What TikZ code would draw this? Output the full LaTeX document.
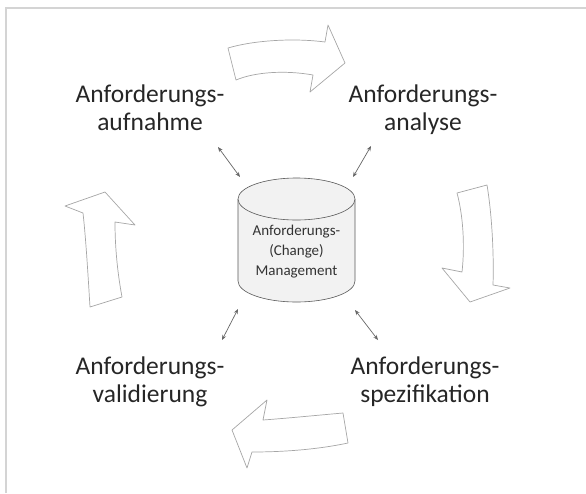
\documentclass[tikz,border=0pt]{standalone}
\usepackage{fontspec}
\setmainfont{Carlito}
\usetikzlibrary{arrows.meta}
\definecolor{framegray}{HTML}{D4D4D4}
\definecolor{arrowgray}{HTML}{A6A6A6}
\definecolor{cylgray}{HTML}{F2F2F2}
\definecolor{textgray}{HTML}{262626}
\begin{document}
\begin{tikzpicture}[x=1pt,y=-1pt,
    phase/.style={anchor=north,inner sep=0pt,align=center,text=textgray,
        font=\fontsize{25.5}{27.5}\selectfont},
    dbtext/.style={anchor=north,inner sep=0pt,align=center,text=black!80,
        font=\fontsize{15}{20}\selectfont},
    bigarrow/.style={draw=arrowgray,fill=white,line width=0.7pt,line join=round},
    link/.style={{Stealth[length=5pt,width=4pt]}-{Stealth[length=5pt,width=4pt]},
        draw=black!60,line width=0.7pt}]
    \useasboundingbox (0,0) rectangle (586,493);

    % Frame
    \draw[framegray,line width=2pt] (6,493) -- (6,8) -- (586,8);

    % Repository
    \fill[cylgray] (238,199) -- (238,281) arc[start angle=180,end angle=0,x radius=58.5,y radius=21] -- (355,199) -- cycle;
    \draw[black!65,line width=0.6pt] (238,199) -- (238,281) arc[start angle=180,end angle=0,x radius=58.5,y radius=21] -- (355,199);
    \draw[black!65,fill=cylgray,line width=0.6pt] (296.5,199) ellipse[x radius=58.5,y radius=21];
    \node[dbtext] (db) at (296.5,225) {Anforderungs-\\(Change)\\Management};

    % Phases
    \node[phase] (aufnahme) at (150,85) {Anforderungs-\\aufnahme};
    \node[phase] (analyse) at (423,85) {Anforderungs-\\analyse};
    \node[phase] (spez) at (425,357) {Anforderungs-\\spezifikation};
    \node[phase] (valid) at (150,357) {Anforderungs-\\validierung};

    % Links to the repository
    \coordinate (aufnahme-out) at (218,147);
    \coordinate (db-tl) at (240,177);
    \coordinate (analyse-out) at (371,146);
    \coordinate (db-tr) at (353,177);
    \coordinate (spez-out) at (378,340);
    \coordinate (db-br) at (355,310);
    \coordinate (valid-out) at (222,340);
    \coordinate (db-bl) at (238,309);
    \draw[link] (aufnahme-out) -- (db-tl);
    \draw[link] (analyse-out) -- (db-tr);
    \draw[link] (spez-out) -- (db-br);
    \draw[link] (valid-out) -- (db-bl);

    % Cycle arrows
    \draw[bigarrow] (228,48) .. controls (255,40) and (295,38) .. (325,42) -- (328,25) -- (345,63)
        -- (310,92) -- (313,75) .. controls (285,70) and (255,72) .. (236,80) -- cycle;
    \draw[bigarrow] (457,193) -- (487,185) .. controls (492,215) and (494,255) .. (493,285)
        -- (510,288) -- (470,302) -- (442,268) -- (462,272) .. controls (465,245) and (463,215) .. (457,193) -- cycle;
    \draw[bigarrow] (343,413) -- (348,443) .. controls (315,450) and (280,452) .. (252,452)
        -- (247,468) -- (232,430) -- (267,400) -- (263,420) .. controls (290,418) and (320,415) .. (343,413) -- cycle;
    \draw[bigarrow] (90,307) -- (122,297) .. controls (117,270) and (115,245) .. (115,222)
        -- (135,225) -- (105,192) -- (65,206) -- (83,213) .. controls (86,240) and (88,275) .. (90,307) -- cycle;
\end{tikzpicture}
\end{document}
